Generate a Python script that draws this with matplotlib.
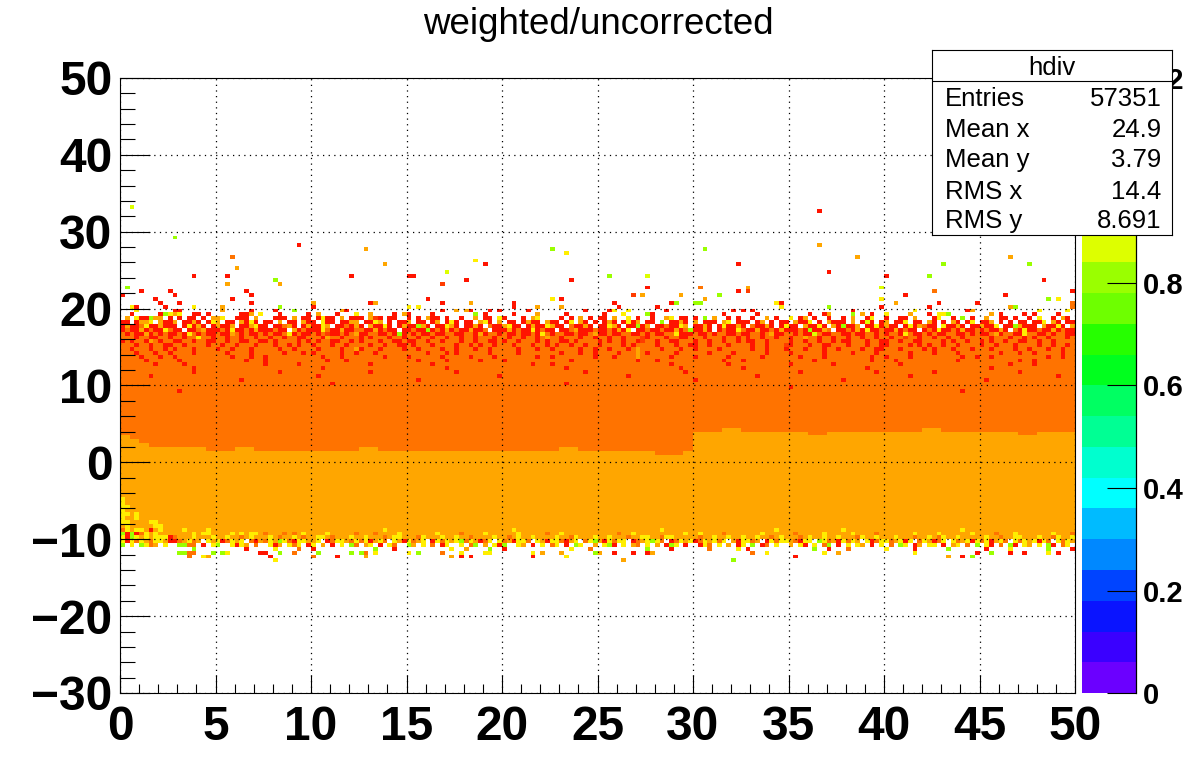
import numpy as np
import matplotlib.pyplot as plt
from matplotlib.colors import ListedColormap, BoundaryNorm

plt.rcParams['font.family'] = ['Liberation Sans', 'DejaVu Sans']

# binning of the 2D histogram "hdiv"
x_lo, x_hi, n_x = 0.0, 50.0, 200
y_lo, y_hi, n_y = -30.0, 50.0, 160

# colour scale: 20 contour levels between 0 and 1.2
z_min, z_max, n_levels = 0.0, 1.2, 20
palette = ['#6b00ff', '#3a00ff', '#0a14ff', '#0044ff', '#0088ff',
           '#00bbff', '#00ffff', '#00ffcf', '#00ff94', '#00ff62',
           '#00ff1e', '#26ff00', '#6eff00', '#9aff00', '#ddff00',
           '#ffee00', '#ffa600', '#ff7300', '#ff3c00', '#ff1400']
cbar_ticks = [0, 0.2, 0.4, 0.6, 0.8, 1.0, 1.2]
cbar_labels = ['0', '0.2', '0.4', '0.6', '0.8', '', '1.2']  # "1" sits under the stats box

# bin content (weighted/uncorrected ratio) for each colour code in the rows below
code_value = {'g': 0.81, 'l': 0.87, 'y': 0.93, 'a': 0.99,
              'o': 1.05, 'R': 1.11, 'r': 1.17}

# solid band: y rows 40..84, orange below the split, dark orange above
body_rows = (40, 84)
split_x = [0, 0.5, 1.0, 1.5, 4.5, 6, 7, 12.5, 13.5, 23, 24, 28, 29.5,
           30, 31.5, 32.5, 36, 37, 42, 43, 47, 48]
split_y = [3.5, 3.0, 2.5, 2.0, 1.5, 2.0, 1.5, 2.0, 1.5, 2.0, 1.5, 1.0, 1.5,
           4.0, 4.5, 4.0, 3.5, 4.0, 4.5, 4.0, 3.5, 4.0]

# upper fringe, one string per y row (200 x bins, '.' = empty)
top_rows = {
    99: "...y...... .rr....... .a.....r.. ..r...g... ......ar.. .......... .......r.. a.ar...r.r .....r.... .......r.. "
        "..ry..y... ....r..... ........r. r.r....... .......... ...r...... ......y... .......ra. .......... ..y.....y.",
    98: "..r.....rg yay..rr.r. .....rra.y ...r.....r .a...r...y ..a....r.a r....r.... ....g.r... ..r....a.. ...r...... "
        ".r...y.... gr........ ......r... ...r...... ....r..ra. ...g.a.r.. y....a...r .yyg...... ..a.r....r .r....r...",
    97: ".a.yrrgaa. r.r.rr.r.a ay..rrr.a. ..rrr.a.rr .ryrr.a.rr r.aRr.rr.. r.r.arr.r. .r..a.rr.y r...r.ay.. ..r.r.a.r. "
        "rr.a..y.r. .r..ay.rr. r.g.a..r.r ..r..a.r.. y.ra.r..r. .r.a..ry.. r..rr.a... ry..r.g.r. .a..rr.r.. r.y..r.ar.",
    96: "rr.raay.ar ra.rrar.ry a.rr.aryr. rr.a.rr.ar r.yrr.rraa .rrya.r.rr a.rr.ra.ry r.rr.ayr.a .rr.rarr.a rr.ry.ar.r "
        ".rar.ryra. rr.g.rrar. a.rrr.ay.r rr.ra.r.rr .arry.r.ar rr.a.rlr.r a.rry.rr.a r.r.ar.ry. rra.r.r.rr .rry.ar.rr",
    95: "rarroyrrar rr.ryrar.r arra.rrayr r.rroar.ra rrya.rrora r.arryr.ra rrgar.rrya r.rrar.orr ayrr.rarry arr.orrar. "
        "rryar.rrgr a.rrorrya. rrar.ryrra r.orrar.ry rr.arryr.a rgrra.rryr arr.ryraor r.yrrar.rr arry.rrgar rr.arryr.a",
    94: "rorrarorry orr.rroarr roryrrorar rrorr.aror rryorrarro orrarorr.r rorrgrorar orrarro.rr rarorryror r.rroarrro "
        "rrorary.rr orrorrarog rrar.rorry orrarrorar rrorgrrao. rroraryrro rrarorr.ro ryrrorarro rorrar.ory rrorrarorr",
    93: "ororraroro rroryororr orraororro rorroyrorr oroRrroroa rroorrorgr ororrorroo rrooraroor orrorroryo roorrorroa "
        "rrorroorro rorrooyrrr orroroorro rrooroarro ororrlorro orrorrooro rooryorror orroorroro rroaroorry oorroroorr",
    92: "oooroorroo roorooyoor ooroorooro orooroorro ooraoorooo roroooroor ooroorooro orooroooro oroorooroa ooroooroor "
        "oorooroooR roooroorro ooroooroor oroorooroo rooaooroor ooroorooro orooRooroo rooroorooo ooroooroor orooroooro",
    91: "rorooraoro orrooroorr ooroorroor rorooooror oroorrooro roooroorro rroorooroo orooroorro rooroooror oorroroooo "
        "rorooroorR ooroorrooo roorooroor orrooroooo roorooroor orroooroor rooroorroo oororooroo rorooroorr oorooroooo",
    90: "ooorooroor roorooooro orooroooro ooroororoo rooorooroo oorooroorr oroooroooo roororooro ooroooroor oroorooroo "
        "roooororoo ooroooroor rooroooroo oorooroooR roooroorro ooroooroor roooororor oorooroooo rooroooroo ooroorooro",
    89: "ooroooroor oroooroooo rooroooroo oooroorooo oroooorooa roooroooor oorooooroo rooorooroo oooroooroo roooooroor "
        "ooroooroao oooroooroo rooooroooo ooroorooor oooroooroo rooooroorr ooorooooro roooroooro oorooooroo rooorooroo",
    88: "oooroooroo rooooroooo oorooooroo ooooroooro roooooroor oooroooooo ooooroooro rooooooroo oooroooooo ooroooroor "
        "ooooroooao rooooorooo ooorooooro oooooroooo rooooooroo ooorooooro oooooroooo rooooroooo ooooroooro oroooooroo",
    87: "ooooroooro oroooooooo oooroooroo rooooooooo oorooorooo oooooroooo rooooooroo ooorooooro oooooooroo roooooooor "
        "ooorooooao oooooroooo rooooooroo oooorooooo oorooooroo oooooooroo rooooroooo ooooooroor oorooooooo oooorooroo",
    86: "oooooroooo oorooooooo oooooorooo rooooooooo oooroooroo oooooooooo ooroooooro oooooroooo rooooooooo oooorooooo "
        "ooooooooro oorooooooo oooooorooo rooooooooo oooooroooo oooooooroo oorooooooo oooooroooo ooooooooro oroooooooo",
    85: "oooooooroo oooroooooo oooooooooo rooooooroo oooooooooo oorooooooo oooooroooo oooooooooo oooooorooo rooooooooo "
        "oooooooooo oooooroooo oooooooroo oooooooooo roooooooor oooooooooo oooroooooo oooooooooo oooooorooo oroooooooo",
    84: "oooooooooo oooooroooo oooooooooo oooooooooo oorooooooo oooooooooo ooooooooro oooooooooo oooooooooo oooroooooo "
        "oooooooooo oooooooroo oooooooooo rooooooooo oooooooooo oooooorooo oooooooooo oooooooooo oorooooooo oooooooooo",
}

# lower fringe rows
bottom_rows = {
    42: "aaaaaaaaaa aaayaaaaya aaaaaaaaaa aaaaaaaaaa aaaaaaaaaa aaaaayaaaa aaaaaaaaaa aaaaaaaaaa aayaaaaaaa aaaaaaaaaa "
        "aaaaaaaaaa aaayaaaaaa aaaaaaaaaa aaaaaaayaa aaaaaaaaaa ayaaaaaaaa aaaaaaaaaa aaaaaayaaa aaaaaaaaaa aaaaaaaaaa",
    41: "aaaayaayaa aaaaayayya aaayayayya oaaaoaoaya aaayaaaaao aaaoaaaaya aaaaaayaaa aoaaaayaaa aaayaaaaao aayaaaaaaa "
        "aaaaoaayaa aaaaaaaaya ayaaaaoaaa aaaayaaaaa aoaaaaayaa aaayaaaaoa aaaaaayaaa ayaaaaaaya aaaoaaayaa aaaaayaaao",
    40: "aaaaaaaaay roaaayaaay aayaaoayaa ayaoaayaoa ayyaoaaaya ayaaaoayya aaoyaaayaa yaaoaaaaya aoayaayaaa ayaaoyaaay "
        "aayaaaoaay yaaoyyaaaa aoaayaayaa yaayaaoaya aaoayaayaa yaaaoyaaya aayaaaoaay aoyaayaaaa ayaaoaayya aayaaoyaay",
    39: "yryoyaoyya rroayoa.ya yroyay.ora oyagyoryya ay.royyaoy oyrayo.yar yoay.ryoya ygoyaroy.y oaryyo.yar yyoray.oyg "
        "aryoyy.roa ygyo.royay royayoy.ar yyoa.ryoyy aoryy.gyoa ryoya.yroy yoayry.oya roy.yoayry oyrayo.yoy ayryo.yoya",
    38: "g.y.gyoa.y ..ggoo.r.y g..yrya.o. .yra.yoy.r y.a.r.y.go .ay.r.yo.. ga.y.o.ry. .y.og.a.yr g..ya.r.y. oy.r.gy..a "
        ".ygr.y.ao. y.a.rgy.r. .ryo.y.a.r y.g.ro.y.. a.yr.y.og. r.y.ya.r.y .o.gy.ra.y y.r.ay.o.g .yr.o.gr.y a.y.gr.oy.",
    37: ".......... .....g.... ......r... ..y....o.. r......... ...g...r.. .........y ..a....g.. r......... ....y...o. "
        ".......... g....r.... ...o.....y .r........ .....g..r. ..o....... y.....r... ...g...... .r....y... ....g....r",
    36: ".......... ..ggoo...g .gy......r r..g..o... .g......g. go.y...... y.g....o.. .y....yy.. ......y.a. ..a......g "
        "a..r...r.. ra........ .......... ..o..y.... .......y.. a......... ......y... .........r ..g...r..r ....y.r...",
    35: ".......... ....o..ya. .......... .r........ o....r.... .a........ .........a .r.r...... ......r... ...y...... "
        ".......... .......... .......... .......... .r........ .......... .......... ...a..r.g. .......... ..........",
    34: ".......... .......... .......... ..y....... .......... .......... .......... .......... .......... .......... "
        ".....a.... .......... ........g. .......... .......... .......... .......... .......... .......... ..........",
}

# noisy corner at low x (bins 0..8)
left_rows = {
    50: "yaaaaaaaa", 49: "yaaaaaaaa", 48: "yyaaaaaaa", 47: "yaaaaaaaa",
    46: "yyayaaaaa", 45: "yaayaaaaa", 44: "yyaaaayya", 43: "ayaaaaayy",
    42: "oyayyaray", 41: "grgroyaya", 40: "yrgyayayy",
}

# isolated red bins inside the dark orange band (x bin, y bin)
body_red = [(15, 83), (33, 83), (52, 83), (70, 83), (97, 83), (118, 83), (142, 83),
            (158, 83), (170, 83), (188, 83), (6, 82), (41, 82), (79, 82), (106, 82),
            (133, 82), (165, 82), (196, 82), (25, 81), (62, 81), (120, 81), (151, 81),
            (181, 81), (44, 80), (93, 80), (140, 79), (12, 78), (176, 78)]

# scattered bins above the band (x bin, y bin, colour code)
outliers = [
    (2, 126, 'l'), (146, 125, 'r'), (11, 118, 'g'), (37, 116, 'r'), (146, 116, 'a'),
    (51, 115, 'a'), (90, 115, 'g'), (122, 115, 'g'), (93, 114, 'y'),
    (23, 113, 'o'), (154, 113, 'a'), (186, 113, 'a'), (74, 112, 'y'),
    (55, 111, 'a'), (76, 111, 'r'), (129, 111, 'r'), (172, 111, 'g'), (190, 111, 'g'),
    (24, 110, 'a'), (68, 109, 'l'), (148, 109, 'r'),
    (15, 108, 'r'), (22, 108, 'r'), (48, 108, 'r'), (60, 108, 'r'), (61, 108, 'r'),
    (102, 108, 'g'), (110, 108, 'l'), (160, 108, 'r'), (169, 108, 'g'),
    (32, 107, 'g'), (72, 107, 'r'), (94, 107, 'r'), (193, 107, 'r'),
    (22, 106, 'a'), (33, 106, 'a'), (67, 106, 'R'),
    (1, 105, 'g'), (110, 105, 'r'), (121, 105, 'o'), (131, 105, 'a'), (159, 105, 'l'),
    (4, 104, 'r'), (10, 104, 'r'), (26, 104, 'r'), (129, 104, 'r'), (131, 104, 'R'),
    (170, 104, 'o'), (199, 104, 'r'),
    (0, 103, 'r'), (11, 103, 'r'), (27, 103, 'r'), (107, 103, 'R'), (109, 103, 'a'),
    (117, 103, 'a'), (125, 103, 'g'), (164, 103, 'r'), (185, 103, 'r'),
    (7, 102, 'r'), (23, 102, 'r'), (64, 102, 'r'), (90, 102, 'y'), (92, 102, 'r'),
    (122, 102, 'a'), (159, 102, 'y'), (194, 102, 'g'), (196, 102, 'y'),
    (8, 101, 'r'), (12, 101, 'r'), (27, 101, 'r'), (40, 101, 'a'), (52, 101, 'r'),
    (53, 101, 'a'), (67, 101, 'r'), (73, 101, 'a'), (82, 101, 'r'), (103, 101, 'r'),
    (115, 101, 'r'), (116, 101, 'g'), (120, 101, 'g'), (121, 101, 'g'), (137, 101, 'y'),
    (138, 101, 'r'), (162, 101, 'a'), (171, 101, 'r'), (179, 101, 'r'), (199, 101, 'o'),
    (2, 100, 'y'), (3, 100, 'r'), (9, 100, 'r'), (15, 100, 'y'), (21, 100, 'a'),
    (33, 100, 'g'), (40, 100, 'r'), (60, 100, 'y'), (62, 100, 'y'), (82, 100, 'r'),
    (87, 100, 'a'), (92, 100, 'a'), (104, 100, 'r'), (112, 100, 'r'), (138, 100, 'y'),
    (148, 100, 'g'), (159, 100, 'r'), (169, 100, 'r'), (186, 100, 'a'), (187, 100, 'g'),
    (199, 100, 'o'),
]

stats_title = 'hdiv'
stats_names = ['Entries', 'Mean x', 'Mean y', 'RMS x', 'RMS y']
stats_values = ['57351', '24.9', '3.79', '14.4', '8.691']


# ---- fill the histogram ----
x_edges = np.linspace(x_lo, x_hi, n_x + 1)
y_edges = np.linspace(y_lo, y_hi, n_y + 1)
x_mid = 0.5 * (x_edges[:-1] + x_edges[1:])
y_mid = 0.5 * (y_edges[:-1] + y_edges[1:])
z = np.full((n_y, n_x), np.nan)

seg = np.searchsorted(split_x, x_mid, side='right') - 1
split_at = np.array(split_y)[seg]
for j in range(body_rows[0], body_rows[1] + 1):
    z[j] = np.where(y_mid[j] < split_at, code_value['a'], code_value['o'])


def put_row(j, text, start=0):
    cells = text.replace(' ', '')
    for k, c in enumerate(cells):
        if start + k >= n_x:
            break
        z[j, start + k] = code_value.get(c, np.nan)


for j, text in top_rows.items():
    put_row(j, text)
for j, text in bottom_rows.items():
    put_row(j, text)
for j, text in left_rows.items():
    put_row(j, text)
for i, j in body_red:
    z[j, i] = code_value['r']
for i, j, c in outliers:
    z[j, i] = code_value[c]

# ---- draw ----
W, H = 1196, 772
fig = plt.figure(figsize=(W / 100, H / 100), dpi=100)
ax = fig.add_axes([120 / W, 79 / H, 955 / W, 615 / H])
cax = fig.add_axes([1082 / W, 79 / H, 54 / W, 615 / H])

cmap = ListedColormap(palette)
norm = BoundaryNorm(np.linspace(z_min, z_max, n_levels + 1), n_levels)
mesh = ax.pcolormesh(x_edges, y_edges, np.ma.masked_invalid(z), cmap=cmap, norm=norm)

ax.set_xlim(x_lo, x_hi)
ax.set_ylim(y_lo, y_hi)
ax.set_xticks(np.arange(0, 51, 5))
ax.set_xticks(np.arange(0, 51, 1), minor=True)
ax.set_yticks(np.arange(-30, 51, 10))
ax.set_yticks(np.arange(-30, 51, 2), minor=True)
ax.set_axisbelow(False)
ax.tick_params(which='both', direction='in', top=False, right=False, width=0.8)
ax.tick_params(axis='x', which='major', length=13, pad=9, labelsize=34.5)
ax.tick_params(axis='x', which='minor', length=6.5)
ax.tick_params(axis='y', which='major', length=21.5, pad=5.5, labelsize=34.5)
ax.tick_params(axis='y', which='minor', length=11)
for lab in ax.get_xticklabels() + ax.get_yticklabels():
    lab.set_fontweight('bold')
ax.grid(True, which='major', color='black', linestyle=(0, (1, 3.5)), linewidth=0.9)
for sp in ax.spines.values():
    sp.set_linewidth(0.8)

cb = fig.colorbar(mesh, cax=cax, ticks=cbar_ticks)
cb.outline.set_visible(False)
cb.minorticks_off()
cax.yaxis.set_ticks_position('right')
cax.tick_params(direction='in', length=21, width=0.8, pad=5, labelsize=21)
cax.set_yticklabels(cbar_labels, fontweight='bold')
cax.plot([1, 1], [0, 1], transform=cax.transAxes, color='black', lw=0.9, clip_on=False)

fig.text(0.5, 1 - 25 / H, 'weighted/uncorrected', ha='center', va='center', fontsize=26.5)

# statistics box, drawn last so it covers the colour bar label
sax = fig.add_axes([932 / W, (H - 235) / H, 240 / W, 185 / H])
sax.set_facecolor('white')
sax.set_xticks([])
sax.set_yticks([])
for sp in sax.spines.values():
    sp.set_linewidth(0.8)
sax.axhline(0.832, color='black', lw=0.8)
sax.text(0.5, 0.865, stats_title, ha='center', va='baseline', fontsize=18.5,
         transform=sax.transAxes)
row_base = [0.699, 0.531, 0.368, 0.195, 0.038]
for yb, name, val in zip(row_base, stats_names, stats_values):
    sax.text(0.054, yb, name, ha='left', va='baseline', fontsize=18.5, transform=sax.transAxes)
    sax.text(0.956, yb, val, ha='right', va='baseline', fontsize=18.5, transform=sax.transAxes)

fig.savefig('out.png', dpi=100)
